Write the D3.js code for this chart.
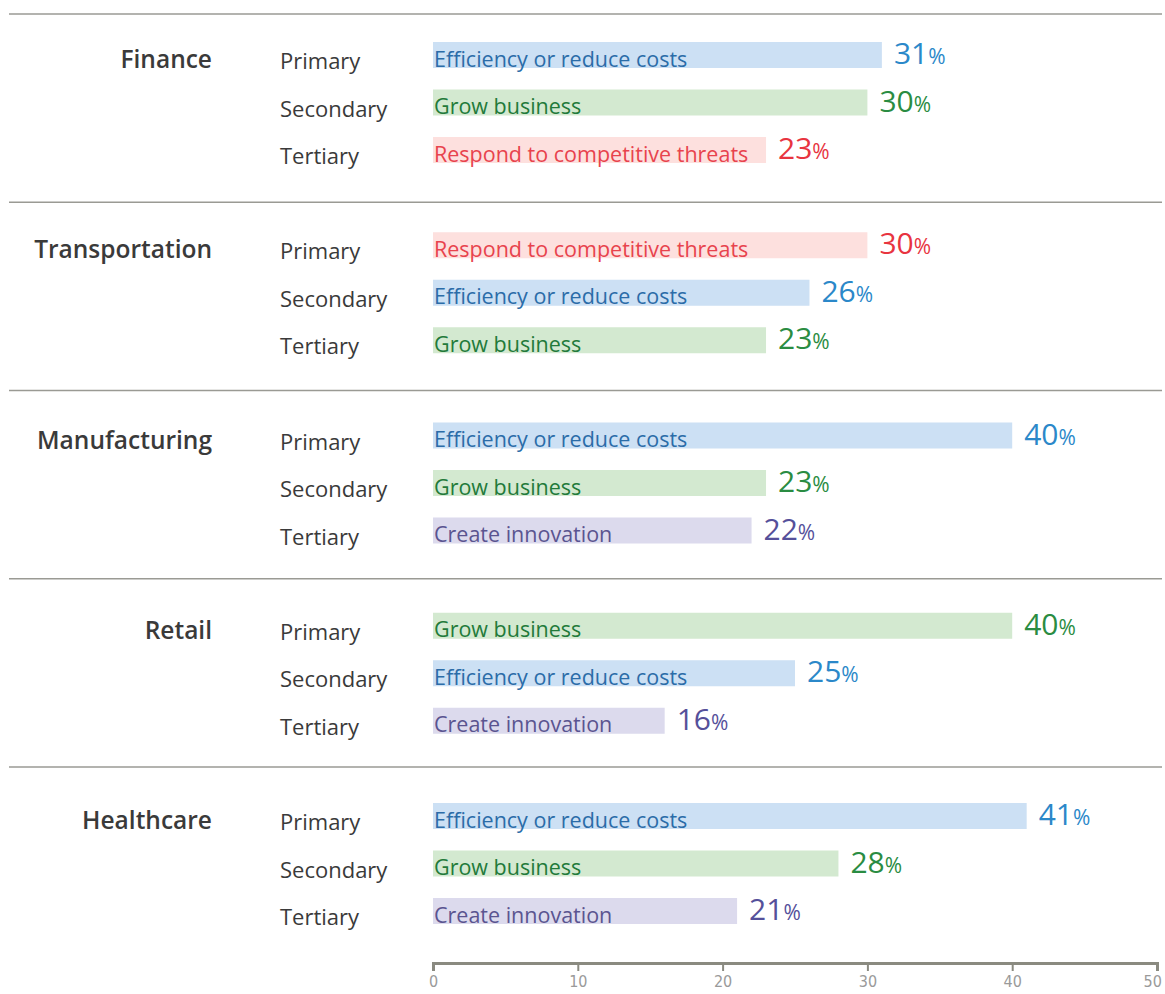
<!DOCTYPE html>
<html>
<head>
<meta charset="utf-8">
<script src="https://cdn.jsdelivr.net/npm/d3@7"></script>
<style>
  body { margin: 0; background: #fff; }
  svg { display: block; font-family: "Open Sans", sans-serif; }
  .sep { stroke: #9a9a94; stroke-width: 1.5; }
  .industry { font-size: 24.5px; font-weight: 600; fill: #3a3a3a; text-anchor: end; }
  .rank { font-size: 22px; fill: #3a3a3a; }
  .barLabel { font-size: 21.5px; }
  .value { font-size: 30px; }
  .value tspan.pct { font-size: 21px; }
  .axis path, .axis line { stroke: #8a8a80; }
  .axis path { stroke-width: 3; }
  .axis line { stroke-width: 2; }
  .axis text { fill: #9a9a9a; font-size: 16px; font-family: "Liberation Sans Narrow", "DejaVu Sans Condensed", sans-serif; }
</style>
</head>
<body>
<svg id="chart" width="1165" height="994"></svg>
<script>
const industries = ['Finance', 'Transportation', 'Manufacturing', 'Retail', 'Healthcare'];
const ranks = ['Primary', 'Secondary', 'Tertiary'];

// driver per industry / rank
const drivers = [
  ['Efficiency or reduce costs', 'Grow business', 'Respond to competitive threats'],
  ['Respond to competitive threats', 'Efficiency or reduce costs', 'Grow business'],
  ['Efficiency or reduce costs', 'Grow business', 'Create innovation'],
  ['Grow business', 'Efficiency or reduce costs', 'Create innovation'],
  ['Efficiency or reduce costs', 'Grow business', 'Create innovation']
];

// percent per industry / rank
const shares = [
  [31, 30, 23],
  [30, 26, 23],
  [40, 23, 22],
  [40, 25, 16],
  [41, 28, 21]
];

const axisTicks = [0, 10, 20, 30, 40, 50];

const palette = {
  'Efficiency or reduce costs': { bar: '#cce0f4', text: '#2b6ca8', value: '#2b88c9' },
  'Grow business': { bar: '#d3e9d0', text: '#227a3a', value: '#2a8c42' },
  'Respond to competitive threats': { bar: '#fde0de', text: '#e8434d', value: '#e8343f' },
  'Create innovation': { bar: '#dcdaed', text: '#5a5490', value: '#55509a' }
};

const svg = d3.select('#chart');

const x = d3.scaleLinear().domain([0, 50]).range([433, 1157]);

// group positions
const groupY = d3.scaleLinear().domain([0, 4]).range([42, 803]);
const sepY = d3.scaleLinear().domain([0, 4]).range([14, 767]);
const rowY = d3.scalePoint().domain(ranks).range([0, 95]);
const barH = 26;

// separators
svg.selectAll('line.sep')
  .data(industries)
  .enter()
  .append('line')
  .attr('class', 'sep')
  .attr('x1', 9)
  .attr('x2', 1162)
  .attr('y1', (d, i) => sepY(i))
  .attr('y2', (d, i) => sepY(i));

const groups = svg.selectAll('g.industry-group')
  .data(industries)
  .enter()
  .append('g')
  .attr('class', 'industry-group')
  .attr('transform', (d, i) => `translate(0, ${groupY(i)})`);

groups.append('text')
  .attr('class', 'industry')
  .attr('x', 212)
  .attr('y', 26)
  .text((d) => d);

const rows = groups.selectAll('g.row')
  .data((d, i) => ranks.map((r, j) => ({ rank: r, driver: drivers[i][j], value: shares[i][j] })))
  .enter()
  .append('g')
  .attr('class', 'row')
  .attr('transform', (d) => `translate(0, ${rowY(d.rank)})`);

rows.append('text')
  .attr('class', 'rank')
  .attr('x', 280)
  .attr('y', barH + 1)
  .text((d) => d.rank);

rows.append('rect')
  .attr('x', x(0))
  .attr('y', 0)
  .attr('width', (d) => x(d.value) - x(0))
  .attr('height', barH)
  .attr('fill', (d) => palette[d.driver].bar);

rows.append('text')
  .attr('class', 'barLabel')
  .attr('x', x(0) + 1)
  .attr('y', barH - 1.5)
  .attr('fill', (d) => palette[d.driver].text)
  .text((d) => d.driver);

const values = rows.append('text')
  .attr('class', 'value')
  .attr('x', (d) => x(d.value) + 12)
  .attr('y', barH - 4)
  .attr('fill', (d) => palette[d.driver].value);
values.append('tspan').text((d) => d.value);
values.append('tspan').attr('class', 'pct').text('%');

// x-axis
svg.append('g')
  .attr('class', 'axis')
  .attr('transform', 'translate(0, 963)')
  .call(d3.axisBottom(x).tickValues(axisTicks).tickSize(8).tickSizeOuter(8).tickPadding(5))
  .call((g) => g.selectAll('.tick text').filter((d) => d === 50).attr('dx', '-0.3em'));
</script>
</body>
</html>
